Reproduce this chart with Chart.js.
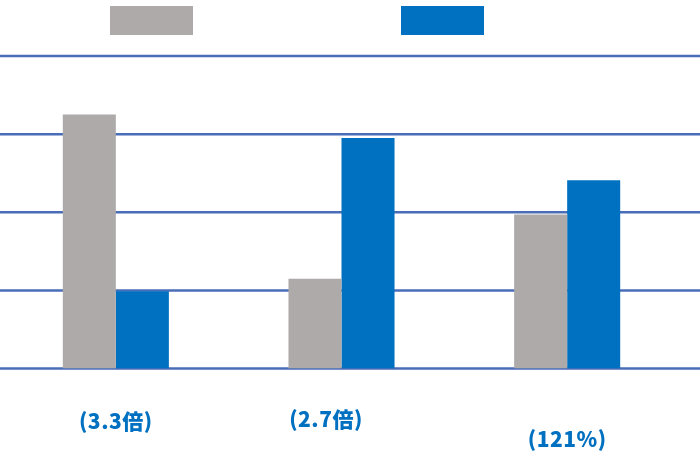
<!DOCTYPE html>
<html>
<head>
<meta charset="utf-8">
<script src="https://cdn.jsdelivr.net/npm/chart.js@4.4.1/dist/chart.umd.min.js"></script>
<style>
  html, body { margin: 0; padding: 0; background: #ffffff; }
  #wrap { width: 700px; height: 467px; position: relative; }
</style>
</head>
<body>
<div id="wrap"><canvas id="c" width="700" height="467"></canvas></div>
<script>
// ---- data ----
const categories = ['A', 'B', 'C'];
const seriesGray = [3.25, 1.15, 1.97];
const seriesBlue = [0.99, 2.95, 2.41];
const ratioLabels = ['(3.3倍)', '(2.7倍)', '(121%)'];
const yTicks = [0, 1, 2, 3, 4];

// ---- styles ----
const GRAY = '#AEAAAA';
const BLUE = '#0070C0';
const GRID = '#4A6DB8';
const labelOffsets = [{dx: 0, dy: 52.5}, {dx: -15.5, dy: 50.5}, {dx: 0, dy: 70.5}];

const fullGrid = {
  id: 'fullGrid',
  beforeDatasetsDraw(chart) {
    const ctx = chart.ctx, y = chart.scales.y;
    ctx.save();
    ctx.strokeStyle = GRID;
    ctx.lineWidth = 2.5;
    yTicks.forEach(v => {
      const py = y.getPixelForValue(v);
      ctx.beginPath();
      ctx.moveTo(0, py);
      ctx.lineTo(chart.width, py);
      ctx.stroke();
    });
    ctx.restore();
  }
};

const boxLegend = {
  id: 'boxLegend',
  afterDraw(chart) {
    const ctx = chart.ctx;
    const xs = [110, 401];
    ctx.save();
    chart.data.datasets.forEach((ds, i) => {
      ctx.fillStyle = ds.backgroundColor;
      ctx.fillRect(xs[i], 6, 83, 29);
    });
    ctx.restore();
  }
};

const ratioText = {
  id: 'ratioText',
  afterDraw(chart) {
    const ctx = chart.ctx, x = chart.scales.x, area = chart.chartArea;
    ctx.save();
    ctx.fillStyle = BLUE;
    ctx.font = '900 21px "Noto Sans CJK JP", "Noto Sans", sans-serif';
    ctx.textAlign = 'center';
    ctx.textBaseline = 'middle';
    try { ctx.letterSpacing = '0.5px'; } catch (e) {}
    ratioLabels.forEach((t, i) => {
      const o = labelOffsets[i];
      ctx.fillText(t, x.getPixelForValue(i) + o.dx, area.bottom + o.dy);
    });
    ctx.restore();
  }
};

new Chart(document.getElementById('c'), {
  type: 'bar',
  data: {
    labels: categories,
    datasets: [
      { label: 'Series 1', data: seriesGray, backgroundColor: GRAY, borderWidth: 0,
        categoryPercentage: 0.47, barPercentage: 1.0 },
      { label: 'Series 2', data: seriesBlue, backgroundColor: BLUE, borderWidth: 0,
        categoryPercentage: 0.47, barPercentage: 1.0 }
    ]
  },
  options: {
    responsive: false,
    animation: false,
    devicePixelRatio: 1,
    layout: { padding: { top: 56, bottom: 98.5, left: 3, right: 20 } },
    plugins: { legend: { display: false }, tooltip: { enabled: false } },
    scales: {
      x: {
        display: false,
        grid: { display: false }
      },
      y: {
        display: false,
        min: 0,
        max: 4,
        grid: { display: false },
        ticks: { stepSize: 1 }
      }
    }
  },
  plugins: [fullGrid, boxLegend, ratioText]
});
</script>
</body>
</html>
